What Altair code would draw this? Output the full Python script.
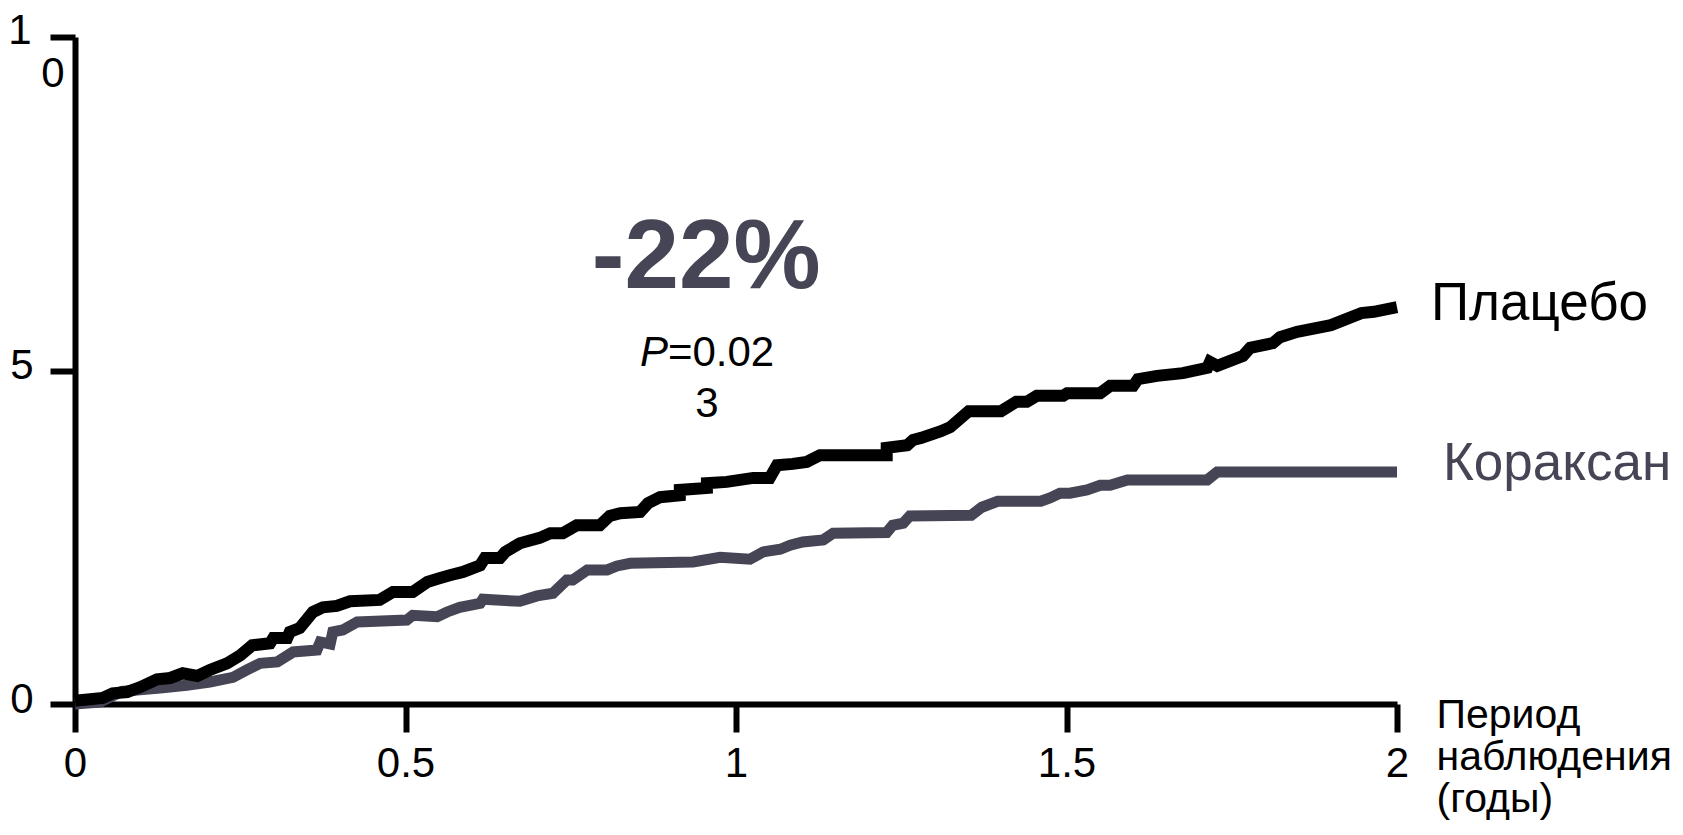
import altair as alt
import pandas as pd

# Placebo (black) cumulative curve
placebo_x = [0.000, 0.042, 0.057, 0.079, 0.098, 0.124, 0.144, 0.163, 0.185, 0.204,
             0.230, 0.250, 0.268, 0.295, 0.300, 0.321, 0.325, 0.340, 0.360, 0.375,
             0.396, 0.416, 0.461, 0.481, 0.511, 0.533, 0.550, 0.567, 0.587, 0.613,
             0.620, 0.643, 0.651, 0.673, 0.703, 0.719, 0.738, 0.759, 0.794, 0.809,
             0.825, 0.855, 0.867, 0.885, 0.915, 0.915, 0.956, 0.956, 0.986, 1.026,
             1.051, 1.062, 1.086, 1.107, 1.127, 1.228, 1.228, 1.259, 1.268, 1.280,
             1.310, 1.324, 1.352, 1.401, 1.424, 1.440, 1.455, 1.495, 1.501, 1.551,
             1.566, 1.601, 1.608, 1.637, 1.676, 1.713, 1.717, 1.728, 1.767, 1.778,
             1.812, 1.823, 1.849, 1.900, 1.946, 1.965, 2.000]
placebo_y = [0.05, 0.09, 0.16, 0.18, 0.25, 0.37, 0.39, 0.46, 0.42, 0.51,
             0.61, 0.73, 0.88, 0.91, 0.99, 0.99, 1.08, 1.14, 1.38, 1.45,
             1.47, 1.54, 1.56, 1.68, 1.68, 1.83, 1.88, 1.93, 1.98, 2.08,
             2.19, 2.19, 2.28, 2.41, 2.49, 2.56, 2.56, 2.68, 2.68, 2.82,
             2.86, 2.88, 3.01, 3.10, 3.13, 3.21, 3.24, 3.31, 3.33, 3.39,
             3.39, 3.58, 3.60, 3.63, 3.73, 3.73, 3.84, 3.88, 3.96, 3.99,
             4.09, 4.15, 4.39, 4.39, 4.53, 4.53, 4.62, 4.62, 4.66, 4.66,
             4.77, 4.77, 4.87, 4.92, 4.96, 5.04, 5.13, 5.07, 5.22, 5.34,
             5.41, 5.50, 5.58, 5.68, 5.86, 5.88, 5.95]

# Coraxan (grey) cumulative curve
coraxan_x = [0.000, 0.038, 0.071, 0.094, 0.129, 0.169, 0.204, 0.239, 0.260, 0.280,
             0.306, 0.330, 0.366, 0.371, 0.386, 0.390, 0.405, 0.427, 0.502, 0.511,
             0.548, 0.563, 0.582, 0.613, 0.617, 0.673, 0.699, 0.723, 0.744, 0.753,
             0.775, 0.805, 0.820, 0.840, 0.935, 0.976, 1.021, 1.041, 1.067, 1.082,
             1.101, 1.132, 1.147, 1.228, 1.237, 1.253, 1.263, 1.356, 1.372, 1.396,
             1.461, 1.475, 1.490, 1.505, 1.531, 1.551, 1.566, 1.592, 1.713, 1.728,
             2.000]
coraxan_y = [0.00, 0.03, 0.19, 0.21, 0.24, 0.28, 0.33, 0.40, 0.51, 0.61,
             0.63, 0.78, 0.81, 0.93, 0.90, 1.08, 1.11, 1.23, 1.26, 1.33,
             1.31, 1.38, 1.45, 1.51, 1.57, 1.54, 1.62, 1.66, 1.86, 1.86,
             2.01, 2.01, 2.07, 2.11, 2.13, 2.20, 2.17, 2.28, 2.32, 2.38,
             2.43, 2.46, 2.56, 2.57, 2.68, 2.71, 2.82, 2.83, 2.95, 3.04,
             3.04, 3.09, 3.16, 3.16, 3.21, 3.28, 3.28, 3.36, 3.36, 3.48,
             3.48]

x_ticks = [0, 0.5, 1, 1.5, 2]
y_ticks = [0, 5, 10]
x_title = ["Период", "наблюдения", "(годы)"]
series_names = ["Плацебо", "Кораксан"]

FONT = "Liberation Sans"
BLACK = "#000000"
GRAY = "#454555"

pl = pd.DataFrame({"t": placebo_x, "v": placebo_y, "i": list(range(len(placebo_x)))})
co = pd.DataFrame({"t": coraxan_x, "v": coraxan_y, "i": list(range(len(coraxan_x)))})
one = pd.DataFrame({"k": [0]})

xscale = alt.Scale(domain=[0, 2], nice=False, zero=False)
yscale = alt.Scale(domain=[0, 10], nice=False, zero=False)

xaxis = alt.Axis(
    values=x_ticks, labelExpr="datum.value + ''", grid=False,
    domainWidth=6, domainColor=BLACK, domainCap="butt",
    tickWidth=6, tickSize=28, tickColor=BLACK,
    labelFont=FONT, labelFontSize=42, labelColor=BLACK, labelPadding=11,
    labelFlush=False, labelOverlap=False,
    title=x_title, titleFont=FONT, titleFontSize=41, titleFontWeight="normal",
    titleColor=BLACK, titleAlign="left", titleBaseline="alphabetic",
    titleX=1361, titleY=23, titleLineHeight=42, titleAngle=0,
)
yaxis = alt.Axis(
    values=y_ticks, format="d", labelExpr="datum.value == 10 ? '' : datum.label",
    grid=False, domainWidth=6, domainColor=BLACK, domainCap="butt",
    tickWidth=6, tickSize=25, tickColor=BLACK,
    labelFont=FONT, labelFontSize=42, labelColor=BLACK, labelPadding=17,
    labelOffset=-5, labelFlush=False, labelOverlap=False, title="",
)

gray_line = alt.Chart(co).mark_line(
    color=GRAY, strokeWidth=11, strokeCap="butt", strokeJoin="miter"
).encode(
    x=alt.X("t:Q", scale=xscale, axis=xaxis),
    y=alt.Y("v:Q", scale=yscale, axis=yaxis),
    order=alt.Order("i:Q"),
)
black_line = alt.Chart(pl).mark_line(
    color=BLACK, strokeWidth=12, strokeCap="butt", strokeJoin="miter"
).encode(
    x=alt.X("t:Q", scale=xscale),
    y=alt.Y("v:Q", scale=yscale),
    order=alt.Order("i:Q"),
)


def txt(text, x, y, size=42, color=BLACK, align="center", baseline="alphabetic",
        dx=0, dy=0, weight="normal", style="normal"):
    return alt.Chart(one).mark_text(
        text=text, font=FONT, fontSize=size, color=color, align=align,
        baseline=baseline, dx=dx, dy=dy, fontWeight=weight, fontStyle=style,
    ).encode(x=alt.datum(x), y=alt.datum(y))


texts = [
    txt("-22%", 0.955, 6.24, size=98, color=GRAY, weight="bold"),
    txt("P", 0.897, 5.07, align="right", style="italic"),
    txt("=0.02", 0.897, 5.07, align="left"),
    txt("3", 0.956, 4.30),
    txt(series_names[0], 2, 5.75, size=53, align="left", dx=34),
    txt(series_names[1], 2, 3.36, size=53, color=GRAY, align="left", dx=46),
    txt("1", 0, 10, align="center", baseline="middle", dx=-55, dy=-6),
    txt("0", 0, 10, align="center", baseline="middle", dx=-22, dy=37),
]

chart = alt.layer(gray_line, black_line, *texts).properties(
    width=1322, height=667,
    autosize=alt.AutoSizeParams(type="none"),
    padding={"left": 67, "top": 29, "right": 276, "bottom": 119},
    background="white",
).configure_view(strokeWidth=0)

chart.save("out.html", embed_options={"renderer": "svg", "actions": False})
